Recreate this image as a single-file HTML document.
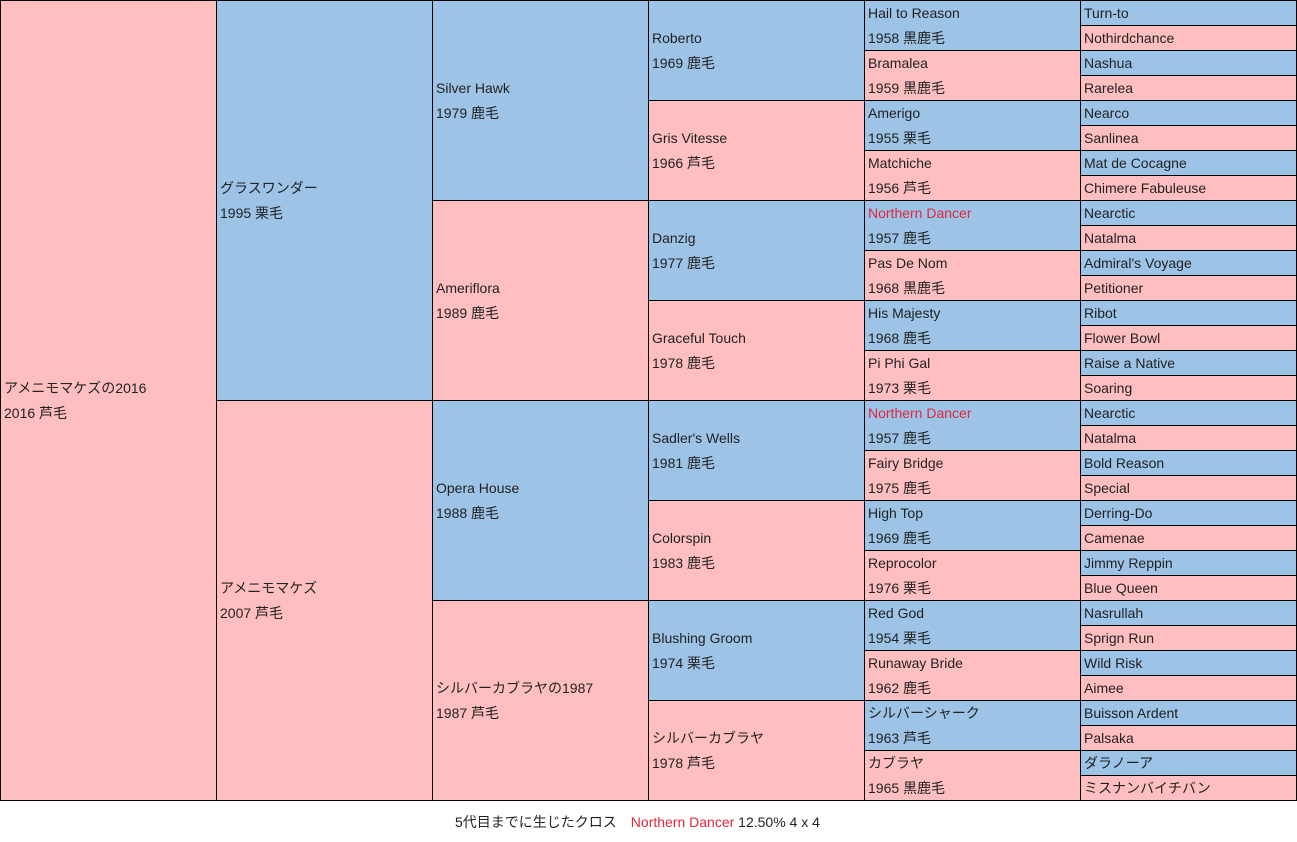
<!DOCTYPE html>
<html><head><meta charset="utf-8">
<style>
body{margin:0;background:#fff;width:1297px;height:842px;overflow:hidden;font-family:"Liberation Sans","Noto Sans CJK JP",sans-serif;font-size:14px;color:#222}
#ped{position:absolute;left:0;top:0;width:1297px;height:801px}
.c{position:absolute;box-sizing:border-box;border-left:1px solid #000;border-top:1px solid #000;display:flex;flex-direction:column;justify-content:center;padding-left:3px;line-height:25px;white-space:nowrap;overflow:hidden}
.m{background:#9dc3e6}.f{background:#ffbfc0}
.red{color:#e0283c}
#foot{position:absolute;top:812px;left:455px;font-size:14px;line-height:20px}
</style></head><body>
<div id="ped"></div>
<div id="foot">5代目までに生じたクロス　<span class="red">Northern Dancer</span> 12.50% 4 x 4</div>
<script>
const gen1=[["アメニモマケズの2016","2016 芦毛"]];
const gen2=[["グラスワンダー","1995 栗毛"],["アメニモマケズ","2007 芦毛"]];
const gen3=[["Silver Hawk","1979 鹿毛"],["Ameriflora","1989 鹿毛"],["Opera House","1988 鹿毛"],["シルバーカブラヤの1987","1987 芦毛"]];
const gen4=[["Roberto","1969 鹿毛"],["Gris Vitesse","1966 芦毛"],["Danzig","1977 鹿毛"],["Graceful Touch","1978 鹿毛"],["Sadler's Wells","1981 鹿毛"],["Colorspin","1983 鹿毛"],["Blushing Groom","1974 栗毛"],["シルバーカブラヤ","1978 芦毛"]];
const gen5=[["Hail to Reason","1958 黒鹿毛"],["Bramalea","1959 黒鹿毛"],["Amerigo","1955 栗毛"],["Matchiche","1956 芦毛"],["Northern Dancer","1957 鹿毛"],["Pas De Nom","1968 黒鹿毛"],["His Majesty","1968 鹿毛"],["Pi Phi Gal","1973 栗毛"],["Northern Dancer","1957 鹿毛"],["Fairy Bridge","1975 鹿毛"],["High Top","1969 鹿毛"],["Reprocolor","1976 栗毛"],["Red God","1954 栗毛"],["Runaway Bride","1962 鹿毛"],["シルバーシャーク","1963 芦毛"],["カブラヤ","1965 黒鹿毛"]];
const gen6=[["Turn-to"],["Nothirdchance"],["Nashua"],["Rarelea"],["Nearco"],["Sanlinea"],["Mat de Cocagne"],["Chimere Fabuleuse"],["Nearctic"],["Natalma"],["Admiral's Voyage"],["Petitioner"],["Ribot"],["Flower Bowl"],["Raise a Native"],["Soaring"],["Nearctic"],["Natalma"],["Bold Reason"],["Special"],["Derring-Do"],["Camenae"],["Jimmy Reppin"],["Blue Queen"],["Nasrullah"],["Sprign Run"],["Wild Risk"],["Aimee"],["Buisson Ardent"],["Palsaka"],["ダラノーア"],["ミスナンバイチバン"]];
const cross=["Northern Dancer"];
const gens=[gen1,gen2,gen3,gen4,gen5,gen6];
const ped=document.getElementById('ped');
gens.forEach((g,gi)=>{
  const h=800/g.length;
  g.forEach((e,i)=>{
    const d=document.createElement('div');
    
    
    const fem = gi===0 ? true : (i%2===1);
    d.className='c '+(fem?'f':'m');
    d.style.left=(gi*216)+'px';d.style.top=(i*h)+'px';
    d.style.width=(gi===5?217:216)+'px';d.style.height=(h+1)+'px';
    if(gi===5){d.style.borderRight='1px solid #000';}
    e.forEach((t,k)=>{const s=document.createElement('div');s.textContent=t;
      if(k===0&&cross.includes(t)&&gi>0)s.className='red';d.appendChild(s);});
    ped.appendChild(d);
  });
});
const b=document.createElement('div');


b.style.cssText='position:absolute;left:0;top:800px;width:1297px;height:1px;background:#000';
ped.appendChild(b);
</script>
</body></html>
